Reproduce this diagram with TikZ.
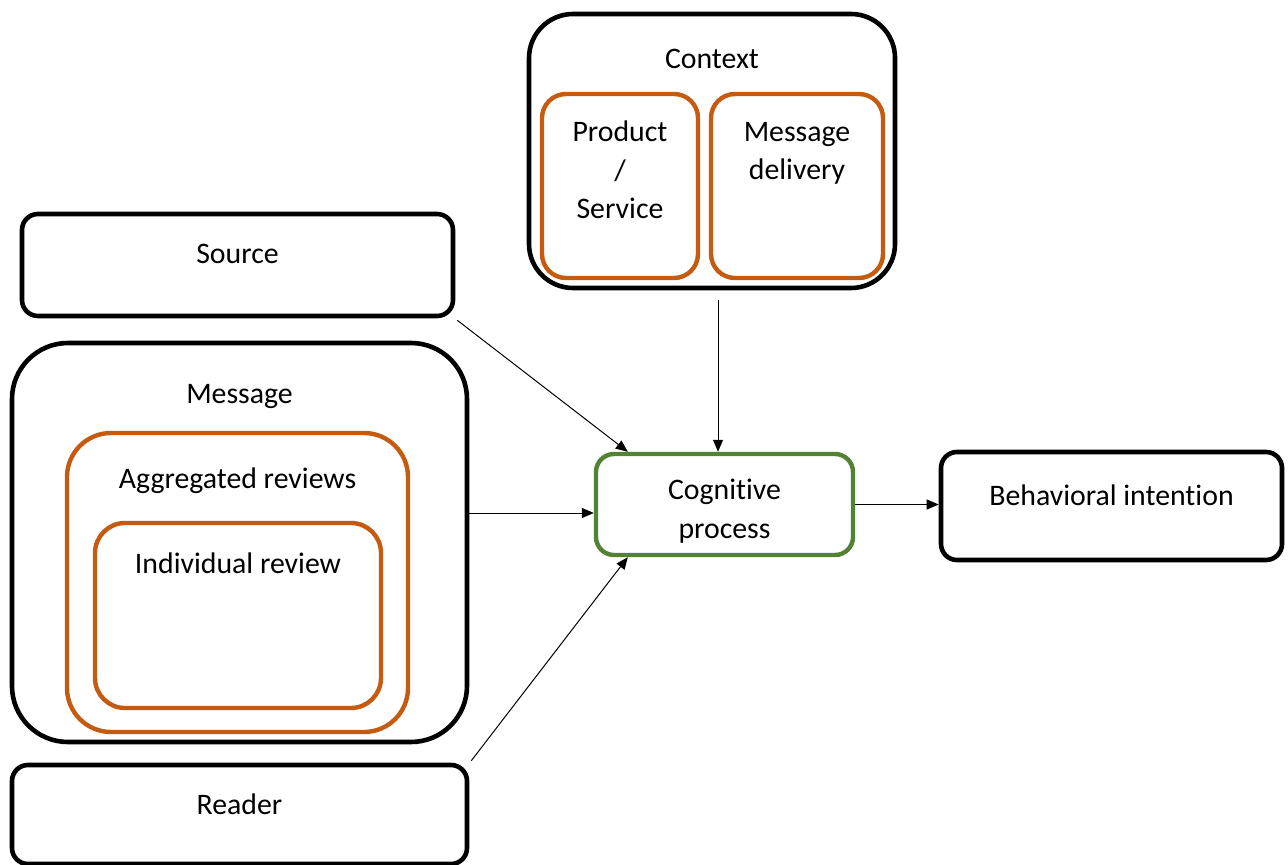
\documentclass[tikz,border=0pt]{standalone}
\usepackage{fontspec}
\setmainfont[RawFeature = {-liga;-clig;-calt;-dlig}]{Carlito}
\usetikzlibrary{arrows.meta}
\definecolor{boxorange}{RGB}{197,90,17}
\definecolor{boxgreen}{RGB}{84,130,53}
\tikzset{
  outerbox/.style = {draw = black, line width = 2.3pt, inner sep = 0pt},
  innerbox/.style = {draw = boxorange, line width = 2.2pt, inner sep = 0pt},
  procbox/.style = {draw = boxgreen, line width = 2.2pt, inner sep = 0pt},
  boxtext/.style = {font = \fontsize{14.9}{19.3}\selectfont, align = center, inner sep = 0pt, anchor = base},
  link/.style = {line width = 0.5pt, -{Triangle[length = 6pt, width = 5pt]}}
}
\begin{document}
\begin{tikzpicture}[x = 0.5pt, y = -0.5pt]
  \useasboundingbox (0, 0) rectangle (1288, 865);
  \node [outerbox, rounded corners = 22pt, minimum width = 183pt, minimum height = 137pt] (context) at (712, 151) {};
  \node [innerbox, rounded corners = 12pt, minimum width = 78pt, minimum height = 92pt] (product) at (620, 186) {};
  \node [innerbox, rounded corners = 12pt, minimum width = 86pt, minimum height = 92pt] (delivery) at (797, 186) {};
  \node [outerbox, rounded corners = 8pt, minimum width = 215.5pt, minimum height = 51pt] (source) at (237.5, 265) {};
  \node [outerbox, rounded corners = 28pt, minimum width = 227.5pt, minimum height = 199.5pt] (message) at (239.5, 542.5) {};
  \node [innerbox, rounded corners = 22pt, minimum width = 170.5pt, minimum height = 149.5pt] (aggregated) at (237.5, 582.5) {};
  \node [innerbox, rounded corners = 15pt, minimum width = 143pt, minimum height = 92.5pt] (individual) at (238, 615.5) {};
  \node [outerbox, rounded corners = 8pt, minimum width = 227.5pt, minimum height = 49.5pt] (reader) at (239.5, 814.5) {};
  \node [procbox, rounded corners = 9pt, minimum width = 128.5pt, minimum height = 50.5pt] (cognitive) at (724.5, 504.5) {};
  \node [outerbox, rounded corners = 8pt, minimum width = 170.5pt, minimum height = 54pt] (behavior) at (1111.5, 506) {};

  \node [boxtext] (contexttext) at (712, 69) {Context};
  \node [boxtext] (producttext) at (620, 219) {Product\\/\\Service};
  \node [boxtext] (deliverytext) at (797, 180) {Message\\delivery};
  \node [boxtext] (sourcetext) at (237.5, 264) {Source};
  \node [boxtext] (messagetext) at (239.5, 403) {Message};
  \node [boxtext] (aggregatedtext) at (237.5, 488) {Aggregated reviews};
  \node [boxtext] (individualtext) at (238, 573) {Individual review};
  \node [boxtext] (readertext) at (239.5, 814) {Reader};
  \node [boxtext] (cognitivetext) at (724.5, 538) {Cognitive\\process};
  \node [boxtext] (behaviortext) at (1111.5, 505) {Behavioral intention};

  \draw [link] ([shift = {(1pt, -1pt)}]source.south east) -- ([xshift = 17pt]cognitive.north west);
  \draw [link] ([shift = {(3pt, -5pt)}]context.south) -- ([xshift = -3.25pt]cognitive.north);
  \draw [link] ([yshift = 14.75pt]message.east) -- ([yshift = -4.25pt]cognitive.west);
  \draw [link] ([shift = {(1pt, 1pt)}]reader.north east) -- ([xshift = 17pt]cognitive.south west);
  \draw [link] (cognitive.east) -- (behavior.west |- cognitive.east);
\end{tikzpicture}
\end{document}
